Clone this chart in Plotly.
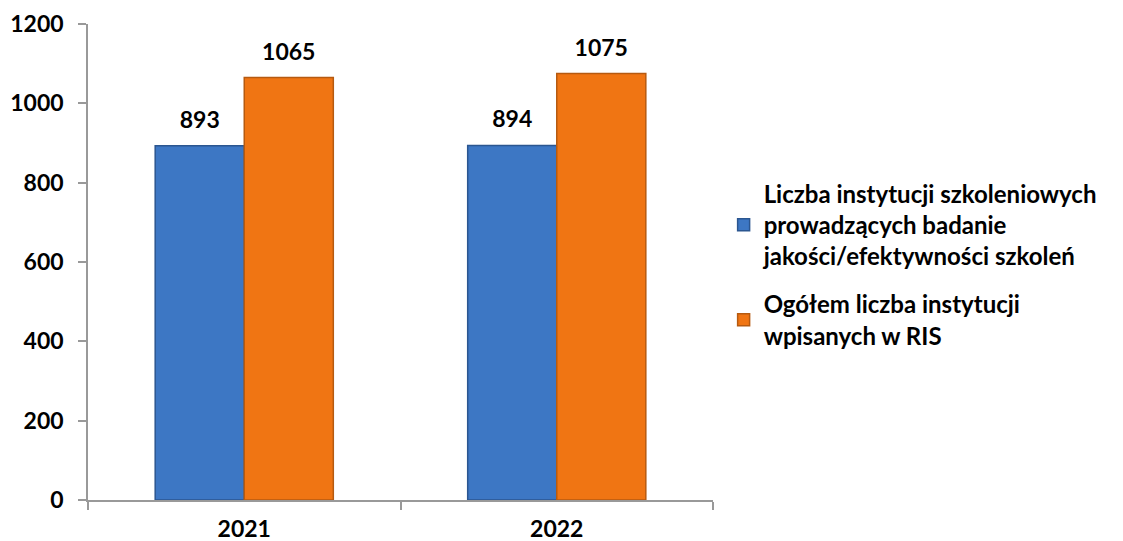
import plotly.graph_objects as go

# data
years = ["2021", "2022"]
badanie = [893, 894]
ogolem = [1065, 1075]

name_badanie = "Liczba instytucji szkoleniowych<br>prowadzących badanie<br>jakości/efektywności szkoleń"
name_ogolem = "Ogółem liczba instytucji<br>wpisanych w RIS"

font_family = "Lato, 'Open Sans', sans-serif"
label_font = dict(size=23, color="black", family=font_family, weight="bold")

fig = go.Figure()
fig.add_trace(go.Bar(
    x=years, y=badanie, name=name_badanie, offsetgroup="a", legendgroup="a",
    marker=dict(color="#3d77c4", line=dict(color="#2b5690", width=1.5)),
))
fig.add_trace(go.Bar(
    x=years, y=ogolem, name=name_ogolem, offsetgroup="b", legendgroup="b",
    marker=dict(color="#f07513", line=dict(color="#b65a10", width=1.5)),
))

# value labels, grouped with the bars
for vals, grp in [(badanie, "a"), (ogolem, "b")]:
    fig.add_trace(go.Scatter(
        x=years, y=vals, mode="markers+text", offsetgroup=grp, legendgroup=grp,
        text=[str(v) for v in vals], textposition="top center",
        textfont=label_font,
        marker=dict(size=18, opacity=0),
        showlegend=False, hoverinfo="skip", cliponaxis=False,
    ))

fig.update_layout(
    width=1123, height=541,
    margin=dict(l=80, r=418, t=16, b=49),
    plot_bgcolor="white", paper_bgcolor="white",
    barmode="group", bargap=0.43, bargroupgap=0,
    scattermode="group", scattergap=0.43,
    font=dict(family=font_family, size=23, color="black"),
    showlegend=True,
    legend=dict(
        x=1.017, y=0.495, xanchor="left", yanchor="middle",
        font=dict(size=24, family=font_family, weight="bold"),
        traceorder="grouped", tracegroupgap=14, itemwidth=30,
    ),
)

fig.update_xaxes(
    type="category", tickson="boundaries", automargin=False,
    showline=True, linecolor="#999999", linewidth=1.5,
    ticks="outside", ticklen=8, tickcolor="#999999", tickwidth=1.5,
    tickfont=dict(size=23, weight="bold"), ticklabelstandoff=8,
    showgrid=False,
)
fig.update_yaxes(
    range=[0, 1200], dtick=200, automargin=False,
    showline=True, linecolor="#999999", linewidth=1.5,
    ticks="outside", ticklen=8, tickcolor="#999999", tickwidth=1.5,
    tickfont=dict(size=23, weight="bold"), ticklabelstandoff=10,
    ticklabeloverflow="allow",
    showgrid=False, zeroline=False,
)

fig.write_html("out.html")
